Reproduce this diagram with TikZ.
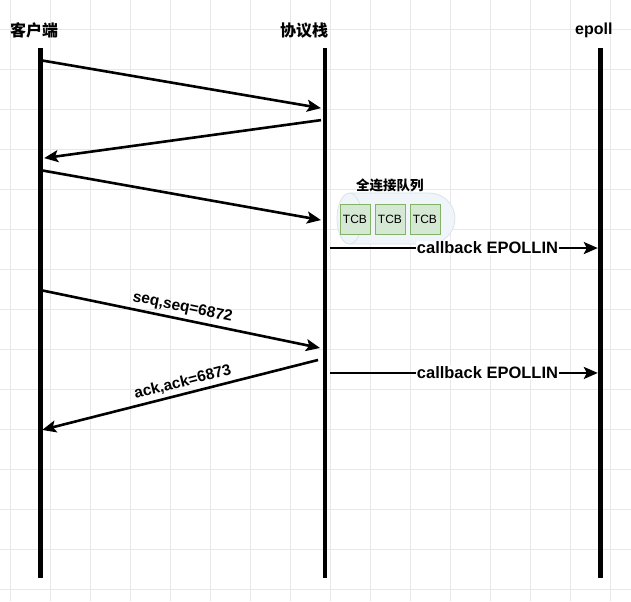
\documentclass[tikz,border=0pt]{standalone}
\usepackage{fontspec}
\setmainfont{Liberation Sans}
\newfontfamily\cjk{Noto Sans CJK SC}
\usetikzlibrary{arrows.meta}
\definecolor{gridgray}{HTML}{E8E8EC}
\definecolor{tcbfill}{HTML}{D5E8D4}
\definecolor{tcbline}{HTML}{82B366}
\definecolor{queuefill}{HTML}{F0F5FA}
\definecolor{queueline}{HTML}{DCE3EC}

\begin{document}
\begin{tikzpicture}[x=1pt,y=-1pt]

	\tikzstyle{title} = [font=\cjk\bfseries\fontsize{16}{16}\selectfont]
	\tikzstyle{lifeline} = [line width=5pt]
	\tikzstyle{msg} = [-{Stealth[length=14pt,width=12pt,inset=3pt]},line width=2.6pt]
	\tikzstyle{msgback} = [{Stealth[length=14pt,width=12pt,inset=3pt]}-,line width=2.6pt]
	\tikzstyle{msglabel} = [font=\bfseries\fontsize{15.5}{15.5}\selectfont]
	\tikzstyle{callback} = [fill=white,inner sep=1pt,font=\bfseries\fontsize{16.5}{16.5}\selectfont]
	\tikzstyle{tcb} = [rectangle,draw=tcbline,fill=tcbfill,minimum width=30pt,minimum height=30pt,inner sep=0pt,font=\fontsize{12}{12}\selectfont]
	\tikzstyle{queue} = [fill=queuefill,draw=queueline,line width=0.8pt]

	\fill[white] (0,0) rectangle (631,601);
	\foreach \x in {10,50,...,610} \draw[gridgray] (\x,0) -- (\x,601);
	\foreach \y in {29,69,...,589} \draw[gridgray] (0,\y) -- (631,\y);
	\useasboundingbox (0,0) rectangle (631,601);

	\node[title] (client) at (34,30) {客户端};
	\node[title] (stack) at (304,30) {协议栈};
	\node[title,font=\bfseries\fontsize{16}{16}\selectfont] (epoll) at (594,30) {epoll};

	\coordinate (ctop) at (40,48);
	\coordinate (cbot) at (40,578);
	\coordinate (stop) at (325,48);
	\coordinate (sbot) at (325,578);
	\coordinate (etop) at (601,48);
	\coordinate (ebot) at (601,578);

	\draw[lifeline] (ctop) -- (cbot);
	\draw[lifeline] (stop) -- (sbot);
	\draw[lifeline] (etop) -- (ebot);

	\coordinate (c1) at (40,60);
	\coordinate (s1) at (321,108);
	\coordinate (s2) at (321,120);
	\coordinate (c2) at (44,158);
	\coordinate (c3) at (40,170);
	\coordinate (s3) at (321,220);
	\coordinate (s4) at (330,248);
	\coordinate (e4) at (598,248);
	\coordinate (c5) at (40,290);
	\coordinate (s5) at (320,348);
	\coordinate (s6) at (318,360);
	\coordinate (c6) at (42,430);
	\coordinate (s7) at (330,373);
	\coordinate (e7) at (598,373);

	\draw[queue] (349.5,193) -- (429.5,193) arc[start angle=90,end angle=-90,x radius=25.5pt,y radius=25.5pt] -- (349.5,244) arc[start angle=-90,end angle=-270,x radius=12.5pt,y radius=25.5pt] -- cycle;
	\draw[queueline,line width=0.8pt] (349.5,193) arc[start angle=90,end angle=-90,x radius=12.5pt,y radius=25.5pt];

	\node[font=\cjk\bfseries\fontsize{13.5}{13.5}\selectfont] (qlabel) at (390,185) {全连接队列};
	\node[tcb] (t1) at (355,219) {TCB};
	\node[tcb] (t2) at (390,219) {TCB};
	\node[tcb] (t3) at (425,219) {TCB};

	\draw[msg] (c1) -- (s1);
	\draw[msg] (s2) -- (c2);
	\draw[msg] (c3) -- (s3);
	\draw[msg] (s4) -- node[callback,pos=0.588] {callback EPOLLIN} (e4);
	\draw[msg] (c5) -- node[msglabel,above,sloped,pos=0.5] {seq,seq=6872} (s5);
	\draw[msgback] (c6) -- node[msglabel,above,sloped,pos=0.52] {ack,ack=6873} (s6);
	\draw[msg] (s7) -- node[callback,pos=0.588] {callback EPOLLIN} (e7);

\end{tikzpicture}
\end{document}
